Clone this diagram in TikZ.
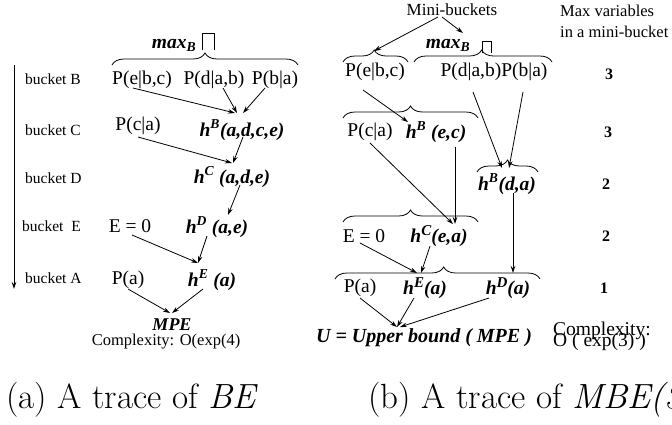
\documentclass[tikz,border=0pt]{standalone}
\usepackage{fontspec}
\setmainfont{Liberation Serif}
\newfontfamily\lmfont{Latin Modern Roman}
\usetikzlibrary{arrows.meta,decorations.pathreplacing}
\newcommand{\fs}[1]{\fontsize{#1}{#1}\selectfont}
\newcommand{\bigsup}[1]{\raisebox{0.38em}{\fs{15}#1}}
\tikzset{
  txt/.style={inner sep=0pt, font=\fs{19.5}},
  bk/.style={inner sep=0pt, font=\fs{15.5}},
  hb/.style={inner sep=0pt, font=\fs{19.5}\bfseries\itshape},
  dg/.style={inner sep=0pt, font=\fs{16}\bfseries},
  captxt/.style={inner sep=0pt, anchor=base west, font=\fs{35}\lmfont},
  arr/.style={-{Stealth[length=7pt,width=4.5pt]}, line width=0.8pt},
  mybrace/.style={decorate, decoration={brace, amplitude=12pt, aspect=#1}, line width=0.8pt},
  mybrace/.default=0.5,
  pibox/.style={line width=0.9pt},
}
\begin{document}
\begin{tikzpicture}[x=1pt,y=-1pt]
\useasboundingbox (0,0) rectangle (672,424);
\clip (0,0) rectangle (672,424);

% ---------------- left panel ----------------
\coordinate (vtop) at (14,65);
\coordinate (vbot) at (14,289);
\draw[arr] (vtop) -- (vbot);

\node[bk, anchor=west] (bB) at (25,79) {bucket B};
\node[bk, anchor=west] (bC) at (25,130) {bucket C};
\node[bk, anchor=west] (bD) at (25,178) {bucket D};
\node[bk, anchor=west] (bE) at (22,226) {bucket\ \ E};
\node[bk, anchor=west] (bA) at (25,278) {bucket A};

\node[hb] (maxB) at (174,45) {max\textsubscript{B}};
\draw[pibox] (202,50) -- (202,33) -- (214,33) -- (214,50);
\draw[mybrace] (112,65) -- (298,65);

\node[txt] (peb) at (142,80) {P(e|b,c)};
\node[txt] (pdab) at (214,80) {P(d|a,b)};
\node[txt] (pba) at (275,80) {P(b|a)};
\node[txt] (pca) at (138,126) {P(c|a)};
\node[hb] (hB) at (242,130) {h\textsuperscript{B}(a,d,c,e)};
\node[hb] (hC) at (232,177) {h\textsuperscript{C} (a,d,e)};
\node[txt] (e0) at (130,226) {E = 0};
\node[hb] (hD) at (217,227) {h\textsuperscript{D} (a,e)};
\node[txt] (pa) at (128,280) {P(a)};
\node[hb] (hE) at (212,280) {h\textsuperscript{E} (a)};
\node[hb, font=\fs{18}\bfseries\itshape] (mpe) at (172,325) {MPE};
\node[bk, font=\fs{16.5}] (cx) at (166,342) {Complexity: O(exp(4)};

\draw[arr] ([shift={(-9,8)}]peb.center) -- ([shift={(-7,-17)}]hB.center);
\draw[arr] ([shift={(9,8)}]pdab.center) -- ([shift={(-5,-17)}]hB.center);
\draw[arr] ([shift={(-10,8)}]pba.center) -- ([shift={(1,-17)}]hB.center);
\draw[arr] ([shift={(0,11)}]pca.center) -- ([shift={(0,-14)}]hC.center);
\draw[arr] ([shift={(1,7)}]hB.center) -- ([shift={(1,-14)}]hC.center);
\draw[arr] ([shift={(8,8)}]hC.center) -- ([shift={(11,-12)}]hD.center);
\draw[arr] ([shift={(2,9)}]e0.center) -- ([shift={(-14,-17)}]hE.center);
\draw[arr] ([shift={(-10,9)}]hD.center) -- ([shift={(-14,-17)}]hE.center);
\draw[arr] ([shift={(0,9)}]pa.center) -- ([shift={(-2,-12)}]mpe.center);
\draw[arr] ([shift={(-9,9)}]hE.center) -- ([shift={(0,-12)}]mpe.center);

% ---------------- right panel ----------------
\node[bk, font=\fs{17}] (mini) at (452,10) {Mini-buckets};
\node[bk, font=\fs{16.5}, anchor=west] (mv1) at (560,11) {Max variables};
\node[bk, font=\fs{16.5}, anchor=west] (mv2) at (560,32) {in a mini-bucket};

\node[hb] (maxB2) at (448,45) {max\textsubscript{B}};
\draw[pibox] (482,53) -- (482,41) -- (491,41) -- (491,53);
\coordinate (tip1) at (374,51);
\coordinate (tipm) at (463,33);
\draw[arr] ([shift={(-14,7)}]mini.center) -- (tip1);
\draw[arr] ([shift={(-10,7)}]mini.center) -- (tipm);

\draw[mybrace=0.48] (343,62) -- (408,62);
\draw[mybrace=0.49] (414,62) -- (552,62);
\draw[mybrace] (343,118) -- (478,118);
\draw[mybrace] (477,172) -- (538,172);
\draw[mybrace] (343,222) -- (478,222);
\draw[mybrace=0.53] (335,279) -- (540,279);

\node[txt] (peb2) at (375,72) {P(e|b,c)};
\node[txt] (pdab2) at (494,72) {P(d|a,b)P(b|a)};
\node[txt] (pca2) at (370,132) {P(c|a)};
\node[hb] (hBec) at (436,132) {h\textsuperscript{B} (e,c)};
\node[hb] (hBda) at (507,184) {h\textsuperscript{B}(d,a)};
\node[txt] (e0b) at (364,236) {E = 0};
\node[hb] (hCea) at (439,236) {h\bigsup{C}(e,a)};
\node[txt] (pa2) at (360,288) {P(a)};
\node[hb] (hEa) at (425,288) {h\bigsup{E}(a)};
\node[hb] (hDa) at (508,288) {h\bigsup{D}(a)};
\node[hb, font=\fs{20}\bfseries\itshape] (ub) at (424,338) {U = Upper bound ( MPE )};

\node[dg] (m1) at (609,74) {3};
\node[dg] (m2) at (608,132) {3};
\node[dg] (m3) at (606,184) {2};
\node[dg] (m4) at (606,236) {2};
\node[dg] (m5) at (604,288) {1};

\node[bk, font=\fs{19.5}, anchor=west] (cx2a) at (553,331) {Complexity:};
\node[bk, font=\fs{19.5}, anchor=west] (cx2b) at (553,342) {O ( exp(3) )};

\draw[arr] ([shift={(-12,18)}]peb2.center) -- ([shift={(-28,-10)}]hBec.center);
\draw[arr] ([shift={(-21,20)}]pdab2.center) -- ([shift={(-5,-16)}]hBda.center);
\draw[arr] ([shift={(29,20)}]pdab2.center) -- ([shift={(2,-16)}]hBda.center);
\draw[arr] ([shift={(0,11)}]pca2.center) -- ([shift={(14,-12)}]hCea.center);
\draw[arr] ([shift={(19,15)}]hBec.center) -- ([shift={(16,-12)}]hCea.center);
\draw[arr] ([shift={(6,9)}]hBda.center) -- ([shift={(5,-15)}]hDa.center);
\draw[arr] ([shift={(-4,7)}]e0b.center) -- ([shift={(-8,-15)}]hEa.center);
\draw[arr] ([shift={(-9,10)}]hCea.center) -- ([shift={(-4,-15)}]hEa.center);
\draw[arr] ([shift={(0,10)}]pa2.center) -- ([shift={(-27,-11)}]ub.center);
\draw[arr] ([shift={(-11,10)}]hEa.center) -- ([shift={(-27,-11)}]ub.center);
\draw[arr] ([shift={(-19,10)}]hDa.center) -- ([shift={(-24,-11)}]ub.center);

% ---------------- captions ----------------
\node[captxt] (capa) at (6,408) {(a) A trace of \textit{BE}};
\node[captxt] (capb) at (368,408) {(b) A trace of \textit{MBE(3}};
\end{tikzpicture}
\end{document}
